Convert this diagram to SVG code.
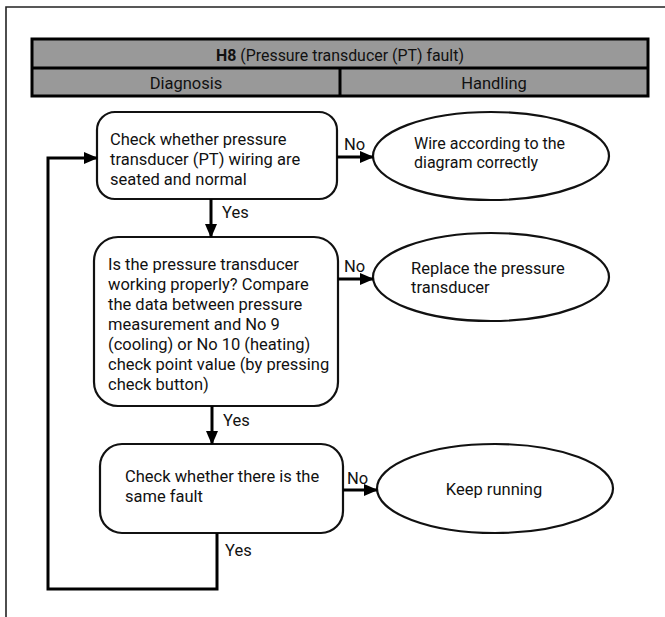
<svg xmlns="http://www.w3.org/2000/svg" width="665" height="617" viewBox="0 0 665 617">
<defs>
<marker id="arr" markerUnits="userSpaceOnUse" markerWidth="14" markerHeight="12" refX="13" refY="6" orient="auto">
<path d="M0,0 L14,6 L0,12 Z" fill="#000"/>
</marker>
<style>
text{font-family:Roboto,"Liberation Sans",Arial,sans-serif;font-size:16.5px;fill:#111}
.node{fill:#fff;stroke:#111;stroke-width:2.2}
.hdr{fill:#999;stroke:#000;stroke-width:3}
.con{fill:none;stroke:#000;stroke-width:3}
.hd{font-size:16.5px}
.el1{font-size:16px}
</style>
</defs>
<rect width="665" height="617" fill="#fff"/>
<path d="M6,617 V7 H665" fill="none" stroke="#222" stroke-width="1.6"/>
<g id="header">
<rect class="hdr" x="32" y="39" width="616" height="57"/>
<line x1="32" y1="68" x2="648" y2="68" stroke="#000" stroke-width="3"/>
<line x1="340" y1="68" x2="340" y2="96" stroke="#000" stroke-width="3"/>
<text class="hd" x="340" y="61" text-anchor="middle" textLength="248" lengthAdjust="spacingAndGlyphs"><tspan font-weight="bold">H8</tspan> (Pressure transducer (PT) fault)</text>
<text class="hd" x="186" y="89" text-anchor="middle">Diagnosis</text>
<text class="hd" x="494" y="89" text-anchor="middle">Handling</text>
</g>
<g id="n1">
<rect class="node" x="97" y="112" width="240" height="87" rx="18"/>
<text x="110" y="145">Check whether pressure</text>
<text x="110" y="165">transducer (PT) wiring are</text>
<text x="110" y="185">seated and normal</text>
</g>
<g id="e1">
<ellipse class="node" cx="491" cy="156" rx="118" ry="44"/>
<text class="el1" x="414" y="149">Wire according to the</text>
<text class="el1" x="414" y="168">diagram correctly</text>
</g>
<g id="n2">
<rect class="node" x="94" y="237" width="244" height="169" rx="24"/>
<text x="108" y="270">Is the pressure transducer</text>
<text x="108" y="290">working properly? Compare</text>
<text x="108" y="310">the data between pressure</text>
<text x="108" y="330">measurement and No 9</text>
<text x="108" y="350">(cooling) or No 10 (heating)</text>
<text x="108" y="370">check point value (by pressing</text>
<text x="108" y="390">check button)</text>
</g>
<g id="e2">
<ellipse class="node" cx="491" cy="277" rx="118" ry="44"/>
<text x="411" y="274">Replace the pressure</text>
<text x="411" y="293">transducer</text>
</g>
<g id="n3">
<rect class="node" x="100" y="444" width="243" height="89" rx="22"/>
<text x="125" y="482">Check whether there is the</text>
<text x="125" y="502">same fault</text>
</g>
<g id="e3">
<ellipse class="node" cx="495" cy="488.5" rx="118" ry="44.5"/>
<text x="494" y="495" text-anchor="middle">Keep running</text>
</g>
<g id="connectors">
<line class="con" x1="337" y1="157" x2="373" y2="157" marker-end="url(#arr)"/>
<line class="con" x1="211" y1="199" x2="211" y2="237" marker-end="url(#arr)"/>
<line class="con" x1="338" y1="279" x2="373" y2="279" marker-end="url(#arr)"/>
<line class="con" x1="212" y1="406" x2="212" y2="444" marker-end="url(#arr)"/>
<line class="con" x1="343" y1="490" x2="377" y2="490" marker-end="url(#arr)"/>
<polyline class="con" points="217,533 217,589 48,589 48,158 97,158" marker-end="url(#arr)"/>
<text x="344" y="150">No</text>
<text x="222" y="218">Yes</text>
<text x="344" y="272">No</text>
<text x="223" y="426">Yes</text>
<text x="347" y="484">No</text>
<text x="225" y="556">Yes</text>
</g>
</svg>
